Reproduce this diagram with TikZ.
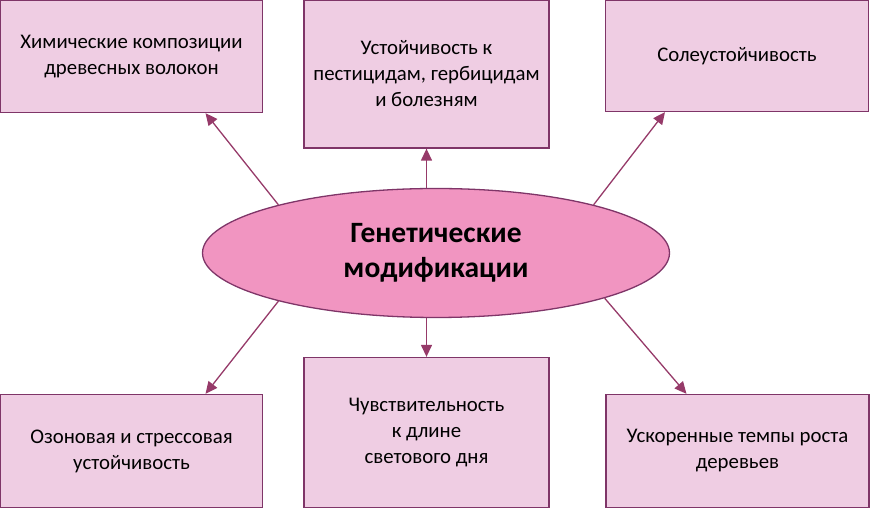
\documentclass[tikz,border=0pt]{standalone}
\usepackage{fontspec}
\setmainfont{Carlito}
\usetikzlibrary{positioning,shapes.geometric,arrows.meta}

\definecolor{boxfill}{HTML}{EFCDE3}
\definecolor{boxline}{HTML}{7F3568}
\definecolor{ovalfill}{HTML}{F195C1}
\definecolor{arrowcol}{HTML}{963A69}

\begin{document}
\begin{tikzpicture}[x=1pt, y=1pt,
  trait/.style={rectangle, draw=boxline, fill=boxfill, line width=1.3pt, align=center,
    font=\fontsize{20.8}{26}\selectfont, inner sep=0pt},
  core/.style={ellipse, draw=boxline, fill=ovalfill, line width=1.3pt, align=center,
    font=\bfseries\fontsize{29.5}{35}\selectfont, inner sep=0pt,
    minimum width=467pt, minimum height=129pt},
  link/.style={draw=arrowcol, line width=1.3pt, -{Triangle[length=12pt, width=11pt]}},
]
\useasboundingbox (0,0) rectangle (870,508);

\node[core] (gm) at (436,255) {Генетические\\модификации};

% upper row
\node[trait, minimum width=262pt, minimum height=112pt] (tl) at (131.5,451.5)
  {Химические композиции\\древесных волокон};
\node[trait, minimum width=245pt, minimum height=148pt] (tm) at (426.5,434)
  {Устойчивость к\\пестицидам, гербицидам\\и болезням};
\node[trait, minimum width=263pt, minimum height=111pt] (tr) at (737,452)
  {Солеустойчивость};

% lower row
\node[trait, minimum width=262pt, minimum height=113pt] (bl) at (131.5,57)
  {Озоновая и стрессовая\\устойчивость};
\node[trait, minimum width=245pt, minimum height=150pt] (bm) at (426.5,75.5)
  {Чувствительность\\к длине\\светового дня};
\node[trait, minimum width=263pt, minimum height=113pt] (br) at (737.5,57)
  {Ускоренные темпы роста\\деревьев};

\draw[link] (gm.163) -- ([xshift=74pt]tl.south);
\draw[link] (gm.north -| tm.south) -- (tm.south);
\draw[link] (gm.17) -- ([xshift=-72pt]tr.south);
\draw[link] (gm.197) -- ([xshift=74pt]bl.north);
\draw[link] (gm.south -| bm.north) -- (bm.north);
\draw[link] (gm.-15) -- ([xshift=-51pt]br.north);
\end{tikzpicture}
\end{document}
